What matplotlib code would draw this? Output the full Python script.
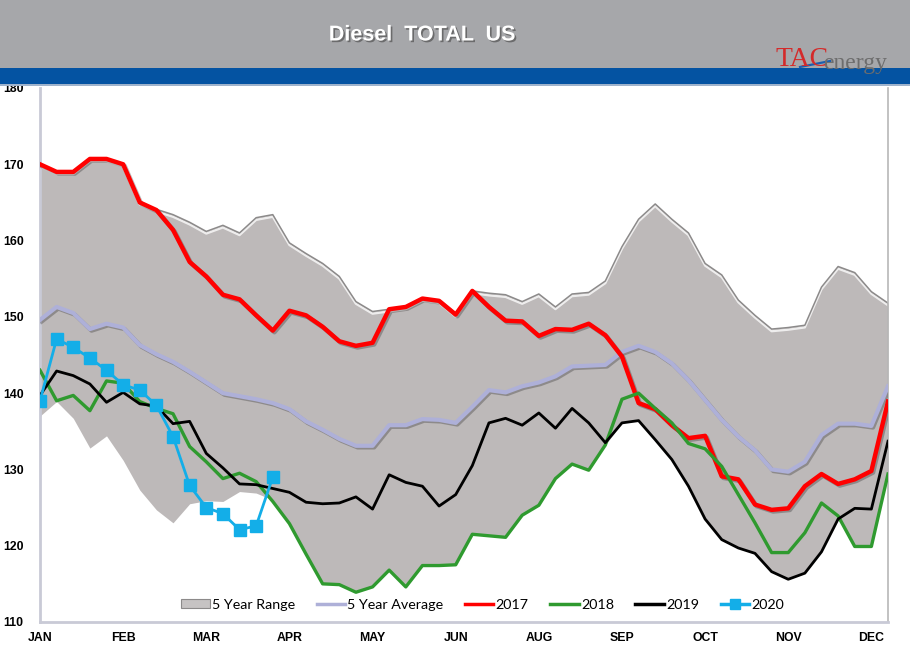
import matplotlib
matplotlib.use("Agg")
import matplotlib.pyplot as plt
import matplotlib.patheffects as pe
from matplotlib.patches import Rectangle, Patch
from matplotlib.lines import Line2D
from matplotlib.transforms import offset_copy
import numpy as np

# ---------------- data ----------------
weeks = list(range(52))
month_ticks = [0, 5, 10, 15, 20, 25, 30, 35, 40, 45, 50]
month_labels = ["JAN", "FEB", "MAR", "APR", "MAY", "JUN", "AUG", "SEP", "OCT", "NOV", "DEC"]

range_high = [170.0, 169.0, 169.0, 170.7, 170.7, 170.0, 165.0, 164.1, 163.4, 162.4,
              161.2, 162.0, 161.0, 163.0, 163.4, 159.7, 158.3, 157.0, 155.3, 152.0,
              150.7, 151.0, 151.3, 152.4, 152.1, 150.3, 153.4, 153.1, 152.9, 152.0,
              153.0, 151.3, 153.0, 153.2, 154.7, 159.2, 162.8, 164.8, 162.8, 161.0,
              157.0, 155.5, 152.2, 150.2, 148.4, 148.6, 148.9, 153.9, 156.6, 155.8,
              153.3, 151.8]
range_low = [137.0, 138.9, 136.7, 132.8, 134.4, 131.2, 127.3, 124.7, 123.0, 125.5,
             125.9, 125.8, 127.1, 126.9, 126.0, 122.9, 118.9, 115.0, 114.9, 113.9,
             114.6, 116.8, 114.6, 117.4, 117.4, 117.5, 121.5, 121.3, 121.1, 124.0,
             125.3, 128.8, 130.7, 129.9, 133.2, 136.1, 136.4, 133.9, 131.3, 127.8,
             123.5, 120.8, 119.7, 119.0, 116.6, 115.6, 116.4, 119.2, 123.5, 119.9,
             119.9, 129.4]
avg5 = [149.6, 151.3, 150.5, 148.4, 149.1, 148.6, 146.3, 145.1, 144.1, 142.8,
        141.4, 140.0, 139.6, 139.2, 138.7, 137.9, 136.3, 135.2, 134.0, 133.1,
        133.1, 135.8, 135.8, 136.6, 136.5, 136.1, 138.2, 140.4, 140.1, 140.9,
        141.4, 142.2, 143.5, 143.6, 143.7, 145.4, 146.2, 145.4, 143.9, 141.7,
        139.1, 136.5, 134.3, 132.5, 130.0, 129.7, 131.0, 134.5, 136.0, 136.0,
        135.7, 140.9]
y2017 = [170.0, 169.0, 169.0, 170.7, 170.7, 170.0, 165.0, 164.0, 161.4, 157.2,
         155.3, 152.9, 152.3, 150.2, 148.2, 150.8, 150.2, 148.7, 146.8, 146.2,
         146.6, 151.0, 151.3, 152.4, 152.1, 150.3, 153.4, 151.3, 149.5, 149.4,
         147.5, 148.4, 148.3, 149.1, 147.6, 144.8, 138.7, 137.9, 135.8, 134.1,
         134.4, 129.1, 128.7, 125.4, 124.7, 124.9, 127.8, 129.4, 128.1, 128.7,
         129.8, 138.9]
y2018 = [143.0, 139.0, 139.7, 137.7, 141.6, 141.3, 138.9, 138.0, 137.3, 133.0,
         131.0, 128.8, 129.5, 128.4, 125.8, 122.9, 118.9, 115.0, 114.9, 113.9,
         114.6, 116.8, 114.6, 117.4, 117.4, 117.5, 121.5, 121.3, 121.1, 124.0,
         125.3, 128.8, 130.7, 129.9, 133.2, 139.2, 140.0, 138.0, 136.1, 133.4,
         132.7, 130.4, 126.7, 123.0, 119.1, 119.1, 121.7, 125.6, 123.9, 119.9,
         119.9, 129.4]
y2019 = [139.7, 142.9, 142.3, 141.2, 138.8, 140.1, 138.6, 138.3, 136.0, 136.3,
         132.1, 130.2, 128.1, 128.0, 127.5, 127.0, 125.7, 125.5, 125.6, 126.4,
         124.8, 129.3, 128.3, 127.8, 125.2, 126.7, 130.5, 136.1, 136.7, 135.8,
         137.4, 135.4, 138.0, 136.1, 133.5, 136.1, 136.4, 133.9, 131.3, 127.8,
         123.5, 120.8, 119.7, 119.0, 116.6, 115.6, 116.4, 119.2, 123.5, 124.9,
         124.8, 133.7]
y2020 = [139.0, 147.1, 146.0, 144.6, 143.0, 141.1, 140.4, 138.4, 134.3, 127.9,
         125.0, 124.2, 122.1, 122.6, 129.0]

# ---------------- figure ----------------
W, H = 910, 659
fig = plt.figure(figsize=(W / 100, H / 100), dpi=100)
fig.patch.set_facecolor("white")

# header bands
fig.patches.append(Rectangle((0, 1 - 68 / H), 1, 68 / H, transform=fig.transFigure,
                             facecolor="#a6a7aa", edgecolor="none", zorder=0))
fig.patches.append(Rectangle((0, 1 - 84 / H), 1, 16 / H, transform=fig.transFigure,
                             facecolor="#0453a2", edgecolor="none", zorder=0))
fig.patches.append(Rectangle((0, 1 - 86 / H), 1, 2 / H, transform=fig.transFigure,
                             facecolor="#9fb3cc", edgecolor="none", zorder=0))

fig.text(422 / W, 1 - 35 / H, "Diesel  TOTAL  US", ha="center", va="center",
         color="white", fontsize=15.5, fontweight="bold", family="Liberation Sans",
         path_effects=[pe.withSimplePatchShadow(offset=(1.2, -1.2),
                                                 shadow_rgbFace="#444444", alpha=0.6)])
# logo
fig.text(775 / W, 1 - 60 / H, "TAC", ha="left", va="center", color="#d42a2a",
         fontsize=20, family="Liberation Serif")
fig.text(823 / W, 1 - 63 / H, "energy", ha="left", va="center", color="#6d6d6d",
         fontsize=17, family="Liberation Serif")
fig.lines.append(Line2D([800 / W, 830 / W], [1 - 67 / H, 1 - 61 / H],
                        transform=fig.transFigure, color="#1c5fb0", lw=1.6))

# axes
ax = fig.add_axes([40 / W, (H - 622) / H, (888 - 40) / W, (622 - 88) / H])
ax.set_xlim(0, 51)
ax.set_ylim(110, 180)
ax.set_facecolor("white")

# 5-year range area with bevel look
ax.fill_between(weeks, range_low, range_high, color="#bdb9b9", lw=0, zorder=1)
hl = offset_copy(ax.transData, fig=fig, x=0, y=-2.2, units="dots")
ax.plot(weeks, range_high, color="white", lw=1.6, alpha=0.75, transform=hl, zorder=2)
ax.plot(weeks, range_high, color="#8c8a8a", lw=1.1, zorder=2)
ax.plot([0, 0], [range_low[0], range_high[0]], color="#9a9898", lw=1.0, zorder=2)
ax.plot([51, 51], [range_low[-1], range_high[-1]], color="#8c8a8a", lw=1.0, zorder=2)

shadow = [pe.SimpleLineShadow(offset=(1.2, -1.2), shadow_color="black", alpha=0.25), pe.Normal()]

ax.plot(weeks, avg5, color="#aeb0d8", lw=3.0, zorder=3, path_effects=shadow,
        solid_joinstyle="round")
ax.plot(weeks, y2017, color="#ff0000", lw=3.2, zorder=4, path_effects=shadow,
        solid_joinstyle="round")
ax.plot(weeks, y2018, color="#2f9a2f", lw=2.4, zorder=5, solid_joinstyle="round")
ax.plot(weeks, y2019, color="black", lw=2.0, zorder=6, solid_joinstyle="round")
ax.plot(weeks[:len(y2020)], y2020, color="#13aee8", lw=2.0, marker="s",
        markersize=8.5, markerfacecolor="#13aee8", markeredgecolor="#13aee8",
        zorder=7, solid_joinstyle="round")

# spines
ax.spines["top"].set_visible(False)
for s in ["left", "bottom"]:
    ax.spines[s].set_color("#c9cad6")
    ax.spines[s].set_linewidth(2.0)
ax.spines["right"].set_color("#b8b8b8")
ax.spines["right"].set_linewidth(1.2)

# ticks
ax.set_yticks(range(110, 181, 10))
ax.set_yticklabels([str(v) for v in range(110, 181, 10)])
ax.tick_params(axis="y", length=0, pad=26.5, labelsize=8.8)
for lab in ax.get_yticklabels():
    lab.set_ha("left")
    lab.set_fontweight("bold")
    lab.set_family("Liberation Sans")
ax.set_xticks(month_ticks)
ax.set_xticklabels(month_labels)
ax.tick_params(axis="x", length=0, pad=7, labelsize=8.8)
for lab in ax.get_xticklabels():
    lab.set_fontweight("bold")
    lab.set_family("Liberation Sans")

# legend
handles = [
    Patch(facecolor="#c6c3c3", edgecolor="#8c8a8a", lw=0.8),
    Line2D([], [], color="#aeb0d8", lw=2.5),
    Line2D([], [], color="#ff0000", lw=2.5),
    Line2D([], [], color="#2f9a2f", lw=2.5),
    Line2D([], [], color="black", lw=2.5),
    Line2D([], [], color="#13aee8", lw=2.5, marker="s", markersize=7),
]
labels = ["5 Year Range", "5 Year Average", "2017", "2018", "2019", "2020"]
leg = ax.legend(handles, labels, loc="center", bbox_to_anchor=(0.522, 0.032),
                ncol=6, frameon=False, handlelength=2.0,
                handletextpad=0.15, columnspacing=1.5, handleheight=0.6,
                prop={"family": "Lato", "size": 10.3})

fig.savefig("out.png", dpi=100, facecolor="white")
